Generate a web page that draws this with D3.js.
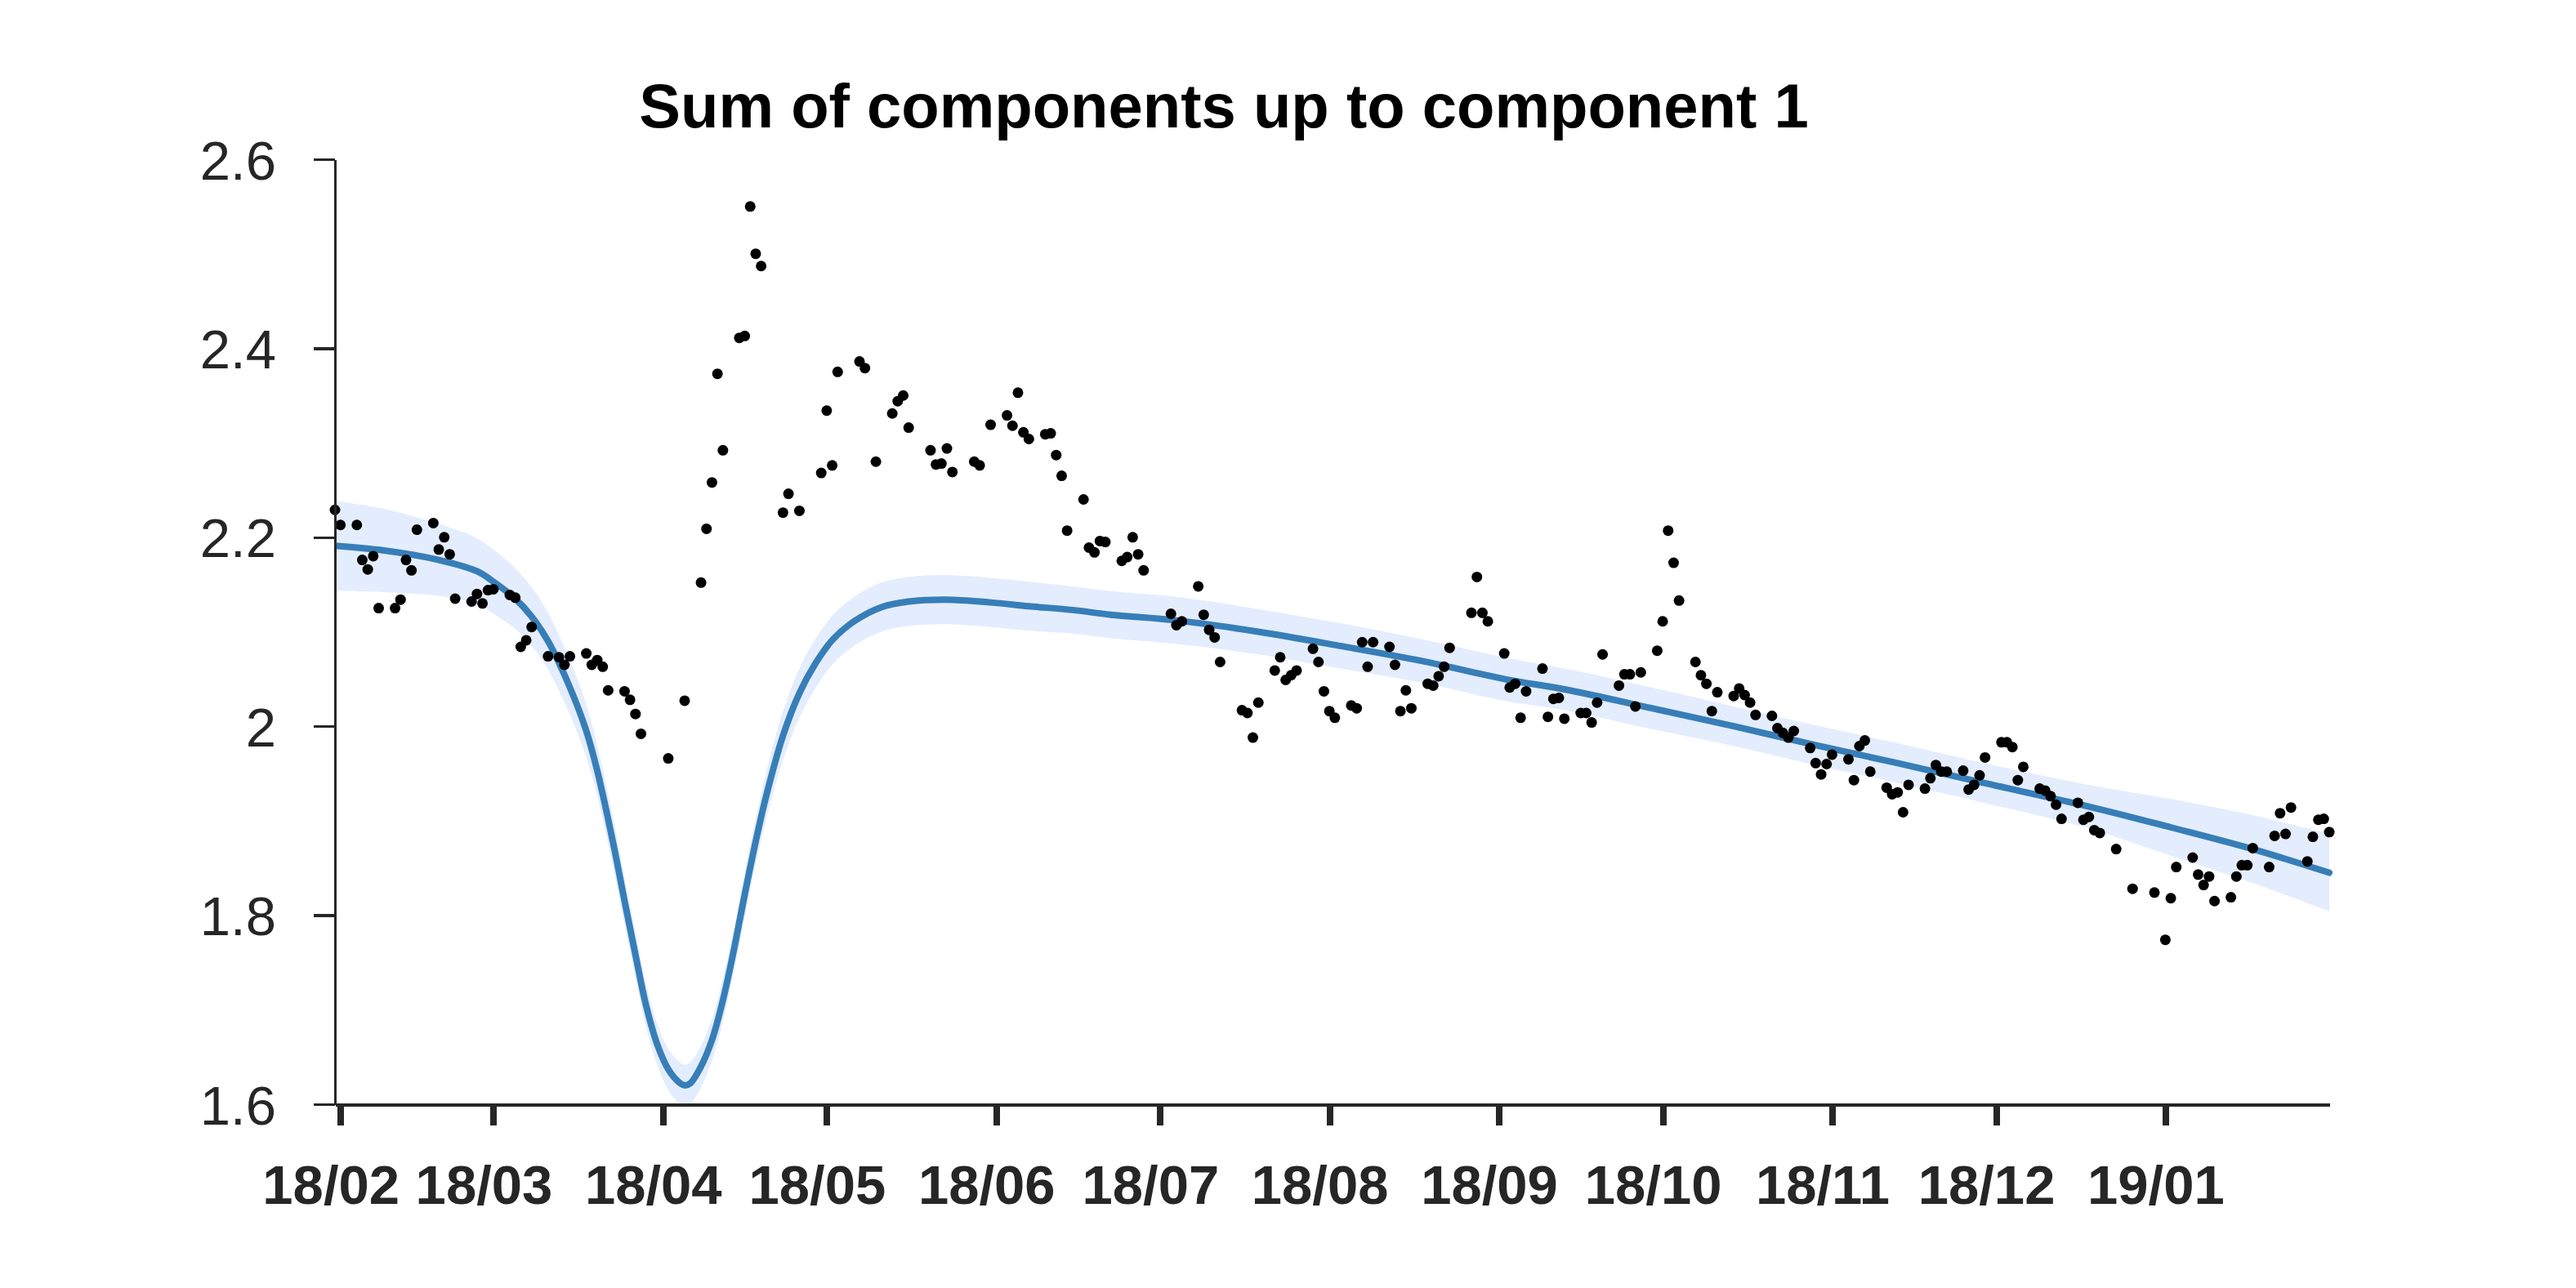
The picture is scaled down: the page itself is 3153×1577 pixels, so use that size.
<!DOCTYPE html>
<html>
<head>
<meta charset="utf-8">
<script src="https://cdn.jsdelivr.net/npm/d3@7"></script>
<style>
html,body{margin:0;padding:0;background:#fff;}
svg{display:block;}
</style>
</head>
<body>
<svg id="chart" width="3153" height="1577"></svg>
<script>
const chartTitle = "Sum of components up to component 1";

const obsDates = [
"2018-01-31","2018-02-01","2018-02-04","2018-02-05","2018-02-06","2018-02-07","2018-02-08",
"2018-02-11","2018-02-12","2018-02-13","2018-02-14","2018-02-15","2018-02-18","2018-02-19",
"2018-02-20","2018-02-21","2018-02-22","2018-02-25","2018-02-26","2018-02-27","2018-02-28",
"2018-03-01","2018-03-04","2018-03-05","2018-03-06","2018-03-07","2018-03-08","2018-03-11",
"2018-03-13","2018-03-14","2018-03-15","2018-03-18","2018-03-19","2018-03-20","2018-03-21",
"2018-03-22","2018-03-25","2018-03-26","2018-03-27","2018-03-28","2018-04-02","2018-04-05",
"2018-04-08","2018-04-09","2018-04-10","2018-04-11","2018-04-12","2018-04-15","2018-04-16",
"2018-04-17","2018-04-18","2018-04-19","2018-04-23","2018-04-24","2018-04-26","2018-04-30",
"2018-05-01","2018-05-02","2018-05-03","2018-05-07","2018-05-08","2018-05-10","2018-05-13",
"2018-05-14","2018-05-15","2018-05-16","2018-05-20","2018-05-21","2018-05-22","2018-05-23",
"2018-05-24","2018-05-28","2018-05-29","2018-05-31","2018-06-03","2018-06-04","2018-06-05",
"2018-06-06","2018-06-07","2018-06-10","2018-06-11","2018-06-12","2018-06-13","2018-06-14",
"2018-06-17","2018-06-18","2018-06-19","2018-06-20","2018-06-21","2018-06-24","2018-06-25",
"2018-06-26","2018-06-27","2018-06-28","2018-07-03","2018-07-04","2018-07-05","2018-07-08",
"2018-07-09","2018-07-10","2018-07-11","2018-07-12","2018-07-16","2018-07-17","2018-07-18",
"2018-07-19","2018-07-22","2018-07-23","2018-07-24","2018-07-25","2018-07-26","2018-07-29",
"2018-07-30","2018-07-31","2018-08-01","2018-08-02","2018-08-05","2018-08-06","2018-08-07",
"2018-08-08","2018-08-09","2018-08-12","2018-08-13","2018-08-14","2018-08-15","2018-08-16",
"2018-08-19","2018-08-20","2018-08-21","2018-08-22","2018-08-23","2018-08-27","2018-08-28",
"2018-08-29","2018-08-30","2018-09-02","2018-09-03","2018-09-04","2018-09-05","2018-09-06",
"2018-09-09","2018-09-10","2018-09-11","2018-09-12","2018-09-13","2018-09-16","2018-09-17",
"2018-09-18","2018-09-19","2018-09-20","2018-09-23","2018-09-24","2018-09-25","2018-09-26",
"2018-09-27","2018-09-30","2018-10-01","2018-10-02","2018-10-03","2018-10-04","2018-10-07",
"2018-10-08","2018-10-09","2018-10-10","2018-10-11","2018-10-14","2018-10-15","2018-10-16",
"2018-10-17","2018-10-18","2018-10-21","2018-10-22","2018-10-23","2018-10-24","2018-10-25",
"2018-10-28","2018-10-29","2018-10-30","2018-10-31","2018-11-01","2018-11-04","2018-11-05",
"2018-11-06","2018-11-07","2018-11-08","2018-11-11","2018-11-12","2018-11-13","2018-11-14",
"2018-11-15","2018-11-18","2018-11-19","2018-11-20","2018-11-21","2018-11-22","2018-11-25",
"2018-11-26","2018-11-27","2018-11-28","2018-11-29","2018-12-02","2018-12-03","2018-12-04",
"2018-12-05","2018-12-06","2018-12-09","2018-12-10","2018-12-11","2018-12-12","2018-12-13",
"2018-12-16","2018-12-17","2018-12-18","2018-12-19","2018-12-20","2018-12-23","2018-12-26",
"2018-12-30","2019-01-01","2019-01-02","2019-01-03","2019-01-06","2019-01-07","2019-01-08",
"2019-01-09","2019-01-10","2019-01-13","2019-01-14","2019-01-15","2019-01-16","2019-01-17",
"2019-01-20","2019-01-21","2019-01-22","2019-01-23","2019-01-24","2019-01-27","2019-01-28",
"2019-01-29","2019-01-30","2019-01-31"
];

const obsValues = [
2.229,2.213,2.213,2.176,2.166,2.180,2.125,
2.125,2.134,2.176,2.165,2.208,2.215,2.187,
2.200,2.182,2.135,2.132,2.140,2.130,2.144,
2.145,2.139,2.136,2.084,2.091,2.105,2.074,
2.073,2.065,2.074,2.077,2.065,2.070,2.063,
2.038,2.037,2.028,2.013,1.992,1.966,2.027,
2.152,2.209,2.258,2.373,2.292,2.411,2.413,
2.550,2.500,2.487,2.226,2.246,2.228,2.268,
2.334,2.276,2.375,2.386,2.379,2.280,2.331,
2.344,2.350,2.316,2.292,2.277,2.278,2.294,
2.269,2.280,2.276,2.319,2.329,2.318,2.353,
2.311,2.304,2.309,2.310,2.287,2.265,2.207,
2.240,2.189,2.184,2.196,2.195,2.175,2.179,
2.200,2.182,2.165,2.119,2.107,2.111,2.148,
2.118,2.102,2.094,2.068,2.017,2.014,1.988,
2.025,2.059,2.073,2.049,2.054,2.059,2.082,
2.068,2.037,2.016,2.009,2.022,2.019,2.089,
2.063,2.089,2.084,2.065,2.016,2.038,2.019,
2.045,2.043,2.053,2.063,2.083,2.120,2.158,
2.120,2.111,2.077,2.041,2.045,2.009,2.037,
2.061,2.010,2.029,2.030,2.008,2.014,2.014,
2.004,2.025,2.076,2.043,2.055,2.055,2.021,
2.057,2.080,2.111,2.207,2.173,2.133,2.068,
2.054,2.045,2.016,2.036,2.032,2.040,2.033,
2.025,2.012,2.011,1.998,1.993,1.988,1.995,
1.977,1.961,1.949,1.960,1.970,1.965,1.943,
1.979,1.985,1.952,1.935,1.928,1.930,1.909,
1.938,1.934,1.945,1.959,1.952,1.952,1.953,
1.933,1.938,1.948,1.967,1.983,1.983,1.978,
1.943,1.957,1.934,1.932,1.926,1.917,1.902,
1.919,1.901,1.904,1.890,1.887,1.870,1.828,
1.824,1.774,1.818,1.851,1.861,1.843,1.832,
1.841,1.815,1.819,1.841,1.853,1.853,1.871,
1.851,1.884,1.908,1.886,1.914,1.857,1.883,
1.901,1.902,1.888
];

const modelDates = [
"2018-01-31","2018-02-09","2018-02-19","2018-02-26","2018-03-01","2018-03-05","2018-03-08",
"2018-03-11","2018-03-15","2018-03-18","2018-03-20","2018-03-23","2018-03-25","2018-03-27",
"2018-03-29","2018-03-31","2018-04-02","2018-04-04","2018-04-05","2018-04-06","2018-04-08",
"2018-04-10","2018-04-12","2018-04-14","2018-04-16","2018-04-18","2018-04-20","2018-04-23",
"2018-04-26","2018-04-29","2018-05-02","2018-05-06","2018-05-11","2018-05-16","2018-05-23",
"2018-05-31","2018-06-07","2018-06-15","2018-06-22","2018-07-04","2018-07-19","2018-08-03",
"2018-08-18","2018-09-02","2018-09-14","2018-09-29","2018-10-14","2018-10-29","2018-11-13",
"2018-11-28","2018-12-18","2019-01-02","2019-01-17","2019-01-31"
];

const modelMean = [
2.191,2.186,2.176,2.164,2.153,2.135,2.116,
2.090,2.041,1.995,1.953,1.874,1.815,1.758,
1.703,1.663,1.637,1.623,1.620,1.622,1.640,
1.668,1.710,1.763,1.822,1.878,1.928,1.990,
2.035,2.067,2.091,2.111,2.126,2.132,2.134,
2.131,2.127,2.123,2.118,2.112,2.100,2.085,
2.069,2.050,2.038,2.019,2.000,1.980,1.961,
1.941,1.915,1.893,1.870,1.845
];

const modelHalfWidth = [
0.0475,0.044,0.038,0.035,0.034,0.032,0.031,
0.030,0.029,0.028,0.027,0.026,0.025,0.024,
0.023,0.022,0.022,0.022,0.022,0.022,0.022,
0.022,0.023,0.023,0.024,0.024,0.025,0.026,
0.026,0.026,0.026,0.026,0.026,0.026,0.026,
0.026,0.026,0.025,0.025,0.025,0.024,0.024,
0.023,0.023,0.022,0.022,0.021,0.021,0.021,
0.021,0.023,0.030,0.036,0.041
];

const yTickValues = [1.6, 1.8, 2.0, 2.2, 2.4, 2.6];
const yTickLabels = ["1.6", "1.8", "2", "2.2", "2.4", "2.6"];
const xTickDates = ["2018-02-01","2018-03-01","2018-04-01","2018-05-01","2018-06-01","2018-07-01",
"2018-08-01","2018-09-01","2018-10-01","2018-11-01","2018-12-01","2019-01-01"];
const xTickLabels = ["18/02","18/03","18/04","18/05","18/06","18/07","18/08","18/09","18/10","18/11","18/12","19/01"];
const xDomain = ["2018-01-31", "2019-01-31"];
const yDomain = [1.6, 2.6];

(function () {
const parse = d3.utcParse("%Y-%m-%d");
const FONT = "'Liberation Sans', Arial, Helvetica, sans-serif";
const AXIS_COLOR = "#262626";

const plotLeft = 410, plotRight = 2851, plotTop = 195, plotBottom = 1352;

const x = d3.scaleUtc().domain(xDomain.map(parse)).range([plotLeft, plotRight]);
const y = d3.scaleLinear().domain(yDomain).range([plotBottom, plotTop]);

const svg = d3.select("#chart");
svg.append("rect").attr("width", 3153).attr("height", 1577).attr("fill", "#fff");

svg.append("defs").append("clipPath").attr("id", "plotClip")
  .append("rect").attr("x", plotLeft).attr("y", plotTop)
  .attr("width", plotRight - plotLeft + 10).attr("height", plotBottom - plotTop);

const model = modelDates.map((d, i) => ({
  date: parse(d), mean: modelMean[i],
  lo: modelMean[i] - modelHalfWidth[i], hi: modelMean[i] + modelHalfWidth[i]
}));
const obs = obsDates.map((d, i) => ({date: parse(d), value: obsValues[i]}));

const curve = d3.curveCatmullRom.alpha(0.5);

const plot = svg.append("g").attr("clip-path", "url(#plotClip)");

plot.append("path")
  .datum(model)
  .attr("fill", "#e4edfd")
  .attr("d", d3.area().curve(curve).x(d => x(d.date)).y0(d => y(d.lo)).y1(d => y(d.hi)));

plot.append("path")
  .datum(model)
  .attr("fill", "none")
  .attr("stroke", "#377eb8")
  .attr("stroke-width", 8)
  .attr("stroke-linejoin", "round")
  .attr("stroke-linecap", "round")
  .attr("d", d3.line().curve(curve).x(d => x(d.date)).y(d => y(d.mean)));

svg.append("g").selectAll("circle")
  .data(obs)
  .join("circle")
  .attr("cx", d => x(d.date))
  .attr("cy", d => y(d.value))
  .attr("r", 6.5)
  .attr("fill", "#000");

const xAxis = d3.axisBottom(x)
  .tickValues(xTickDates.map(parse))
  .tickFormat((d, i) => xTickLabels[i])
  .tickSize(26)
  .tickSizeOuter(0);
const gx = svg.append("g").attr("transform", `translate(0,${plotBottom})`).call(xAxis);
gx.select(".domain").attr("stroke", AXIS_COLOR).attr("stroke-width", 4);
gx.selectAll(".tick line").attr("stroke", AXIS_COLOR).attr("stroke-width", 8);
gx.selectAll(".tick text")
  .attr("fill", AXIS_COLOR)
  .attr("font-family", FONT)
  .attr("font-size", 67)
  .attr("font-weight", "bold")
  .attr("dy", null)
  .attr("y", 122)
  .attr("dx", -12);

const yAxis = d3.axisLeft(y)
  .tickValues(yTickValues)
  .tickFormat((d, i) => yTickLabels[i])
  .tickSize(26)
  .tickPadding(46)
  .tickSizeOuter(0);
const gy = svg.append("g").attr("transform", `translate(${plotLeft},0)`).call(yAxis);
gy.select(".domain").attr("stroke", AXIS_COLOR).attr("stroke-width", 3.5);
gy.selectAll(".tick line").attr("stroke", AXIS_COLOR).attr("stroke-width", 3.5);
gy.selectAll(".tick text")
  .attr("fill", AXIS_COLOR)
  .attr("font-family", FONT)
  .attr("font-size", 67)
  .attr("dy", "0.36em");

svg.selectAll(".domain, .tick line").attr("shape-rendering", "crispEdges");

svg.append("text")
  .attr("x", 1498)
  .attr("y", 156)
  .attr("text-anchor", "middle")
  .attr("font-family", FONT)
  .attr("font-size", 76)
  .attr("font-weight", "bold")
  .attr("fill", "#000")
  .text(chartTitle);
})();
</script>
</body>
</html>
